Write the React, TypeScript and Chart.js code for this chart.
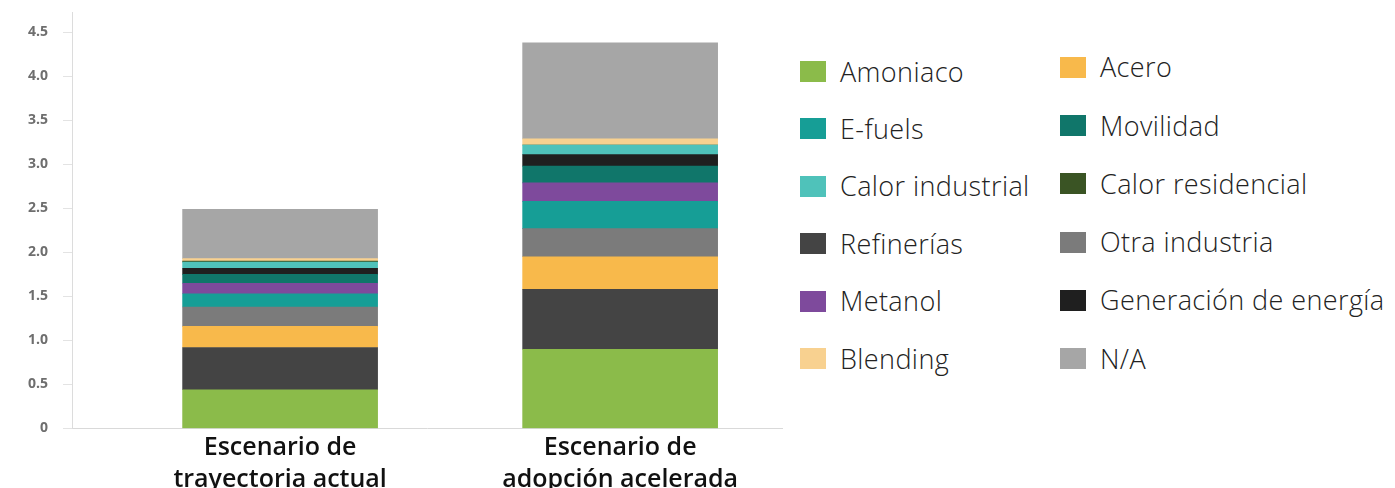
import React, { useEffect, useRef } from "react";
import { Chart, registerables } from "chart.js";

Chart.register(...registerables);

const categories: string[][] = [
  ["Escenario de", "trayectoria actual"],
  ["Escenario de", "adopción acelerada"],
];

const yTickValues = [0, 0.5, 1, 1.5, 2, 2.5, 3, 3.5, 4, 4.5];

// Series values (bottom to top of stack): [trayectoria actual, adopción acelerada]
const amoniaco = [0.44, 0.9];
const refinerias = [0.48, 0.68];
const acero = [0.24, 0.37];
const otraIndustria = [0.22, 0.32];
const eFuels = [0.15, 0.31];
const metanol = [0.12, 0.21];
const movilidad = [0.1, 0.19];
const generacion = [0.07, 0.13];
const calorIndustrial = [0.07, 0.11];
const calorResidencial = [0.01, 0.0];
const blending = [0.03, 0.07];
const na = [0.56, 1.09];

const series = [
  { label: "Amoniaco", data: amoniaco, color: "#8BBB4A" },
  { label: "Refinerías", data: refinerias, color: "#444444" },
  { label: "Acero", data: acero, color: "#F8B94B" },
  { label: "Otra industria", data: otraIndustria, color: "#7B7B7B" },
  { label: "E-fuels", data: eFuels, color: "#169E96" },
  { label: "Metanol", data: metanol, color: "#7E4A9C" },
  { label: "Movilidad", data: movilidad, color: "#10766A" },
  { label: "Generación de energía", data: generacion, color: "#1F1F1F" },
  { label: "Calor industrial", data: calorIndustrial, color: "#4FC2BA" },
  { label: "Calor residencial", data: calorResidencial, color: "#3A5424" },
  { label: "Blending", data: blending, color: "#F8D190" },
  { label: "N/A", data: na, color: "#A6A6A6" },
];

// Legend layout (two columns, row-major)
const legendLeft = ["Amoniaco", "E-fuels", "Calor industrial", "Refinerías", "Metanol", "Blending"];
const legendRight = ["Acero", "Movilidad", "Calor residencial", "Otra industria", "Generación de energía", "N/A"];

function colorOf(label: string): string {
  const s = series.find((d) => d.label === label);
  return s ? s.color : "#000";
}

export default function App() {
  const canvasRef = useRef<HTMLCanvasElement | null>(null);

  useEffect(() => {
    const canvas = canvasRef.current;
    if (!canvas) return;
    const chart = new Chart(canvas, {
      type: "bar",
      data: {
        datasets: series.map((s) => ({
          label: s.label,
          data: s.data.map((v, i) => ({ x: i + 1, y: v })),
          backgroundColor: s.color,
          borderWidth: 0,
          stack: "total",
          barThickness: 195,
        })),
      },
      options: {
        responsive: false,
        animation: false,
        devicePixelRatio: 1,
        layout: { padding: { top: 12, right: 18, left: 0, bottom: 0 } },
        plugins: {
          legend: { display: false },
          tooltip: { enabled: false },
        },
        scales: {
          x: {
            type: "linear",
            offset: false,
            min: 0.388,
            max: 2.476,
            afterBuildTicks: (axis: any) => {
              axis.ticks = categories.map((_, i) => ({ value: i + 1 }));
            },
            ticks: {
              autoSkip: false,
              maxRotation: 0,
              padding: 4,
              color: "#111111",
              font: { family: "Open Sans", size: 25, weight: "600", lineHeight: 1.25 },
              callback: (v: any) => categories[Number(v) - 1] || "",
            },
            grid: { display: false, drawTicks: false, offset: false },
            border: { color: "#d9d9d9", width: 1 },
          },
          y: {
            type: "linear",
            stacked: true,
            min: 0,
            max: 4.73,
            afterBuildTicks: (axis: any) => {
              axis.ticks = yTickValues.map((v) => ({ value: v }));
            },
            afterFit: (scale: any) => {
              scale.width = 72;
              scale.paddingTop = 0;
              scale.paddingBottom = 0;
            },
            ticks: {
              padding: 15,
              color: "#6e6e6e",
              font: { family: "Open Sans", size: 14, weight: "700" },
              callback: (v: any) => (Number(v) === 0 ? "0" : Number(v).toFixed(1)),
            },
            grid: { drawOnChartArea: false, drawTicks: true, tickLength: 9, color: "#e3e3e3" },
            border: { color: "#dcdcdc", width: 1 },
          },
        },
      } as any,
    });
    return () => chart.destroy();
  }, []);

  const itemStyle = (left: number, centerY: number): React.CSSProperties => ({
    position: "absolute",
    left,
    top: centerY - 18,
    height: 36,
    display: "flex",
    alignItems: "center",
    whiteSpace: "nowrap",
  });

  const renderItem = (label: string, left: number, centerY: number) => (
    <div key={label} style={itemStyle(left, centerY)}>
      <span
        style={{
          display: "inline-block",
          width: 26,
          height: 21,
          background: colorOf(label),
          marginRight: 14,
          flex: "none",
        }}
      />
      <span
        style={{
          fontFamily: "'Open Sans', sans-serif",
          fontWeight: 300,
          fontSize: 27,
          letterSpacing: 0.4,
          color: "#222222",
          lineHeight: "36px",
        }}
      >
        {label}
      </span>
    </div>
  );

  return (
    <div
      style={{
        position: "absolute",
        left: 0,
        top: 0,
        width: 1395,
        height: 488,
        overflow: "hidden",
        background: "#ffffff",
      }}
    >
      <canvas ref={canvasRef} width={800} height={499} style={{ position: "absolute", left: 0, top: 0 }} />
      {legendLeft.map((l, i) => renderItem(l, 800, 71.5 + 57.4 * i))}
      {legendRight.map((l, i) => renderItem(l, 1060, 67.2 + 58.3 * i))}
    </div>
  );
}
